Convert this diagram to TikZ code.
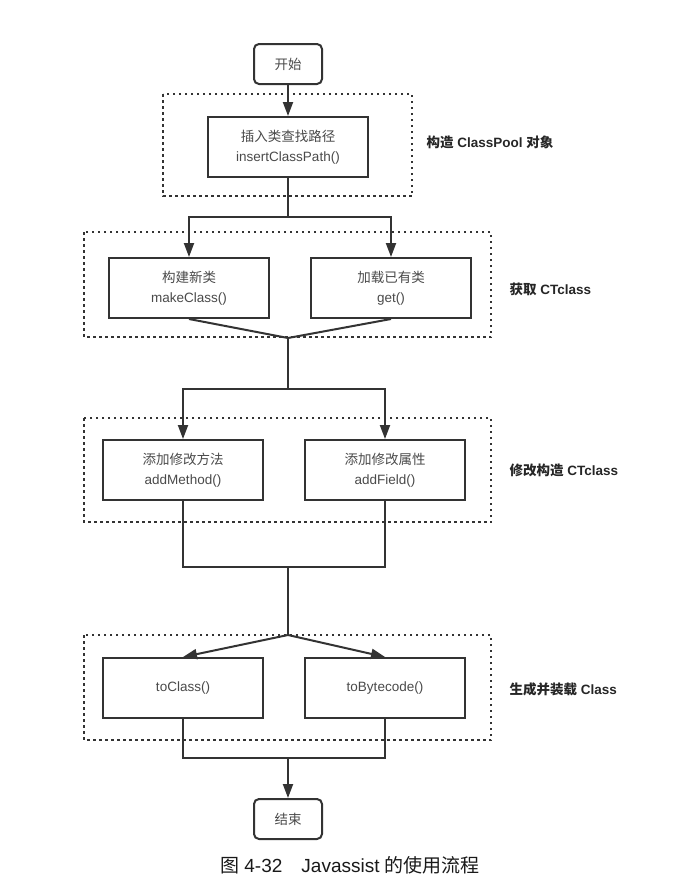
\documentclass[tikz,border=0pt]{standalone}
\usepackage{fontspec}
\setmainfont{Liberation Sans}
\newfontfamily\cjk{Noto Sans CJK SC}
\usetikzlibrary{arrows.meta}
\definecolor{ln}{HTML}{333333}
\definecolor{tx}{HTML}{4A4A4A}
\begin{document}
\begin{tikzpicture}[x=1pt,y=-1pt,
  box/.style={draw=ln,line width=2pt,fill=white,text=tx,align=center,
    font=\fontsize{13.5}{20}\selectfont,inner sep=0pt},
  term/.style={box,rounded corners=5pt},
  grp/.style={draw=ln,line width=2pt,dash pattern=on 2.5pt off 3.5pt},
  lab/.style={anchor=west,font=\fontsize{13.5}{16}\selectfont\bfseries,text=black!85},
  cn/.style={draw=ln,line width=2pt},
  arr/.style={cn,-{Triangle[length=14pt,width=10pt]}}]
\useasboundingbox (0,0) rectangle (698,886);
% groups
\draw[grp] (163,94) rectangle (412,196);
\draw[grp] (84,232) rectangle (491,337);
\draw[grp] (84,418) rectangle (491,522);
\draw[grp] (84,635) rectangle (491,740);
% nodes
\node[term,minimum width=68pt,minimum height=40pt] (start) at (288,64) {\cjk 开始};
\node[box,minimum width=160pt,minimum height=60pt] (ins) at (288,147) {{\cjk 插入类查找路径}\\insertClassPath()};
\node[box,minimum width=160pt,minimum height=60pt] (mk) at (189,288) {{\cjk 构建新类}\\makeClass()};
\node[box,minimum width=160pt,minimum height=60pt] (get) at (391,288) {{\cjk 加载已有类}\\get()};
\node[box,minimum width=160pt,minimum height=60pt] (am) at (183,470) {{\cjk 添加修改方法}\\addMethod()};
\node[box,minimum width=160pt,minimum height=60pt] (af) at (385,470) {{\cjk 添加修改属性}\\addField()};
\node[box,minimum width=160pt,minimum height=60pt] (tc) at (183,688) {toClass()};
\node[box,minimum width=160pt,minimum height=60pt] (tb) at (385,688) {toBytecode()};
\node[term,minimum width=68pt,minimum height=40pt] (end) at (288,819) {\cjk 结束};
% junctions
\coordinate (j1) at (288,217);
\coordinate (j2) at (288,338);
\coordinate (j3) at (288,389);
\coordinate (j4) at (288,567);
\coordinate (j5) at (288,635);
\coordinate (j6) at (288,758);
% connectors
\draw[arr] (start.south) -- (ins.north);
\draw[cn] (ins.south) -- (j1);
\draw[arr] (j1) -| (mk.north);
\draw[arr] (j1) -| (get.north);
\draw[cn] (mk.south) -- (j2);
\draw[cn] (get.south) -- (j2);
\draw[cn] (j2) -- (j3);
\draw[arr] (j3) -| (am.north);
\draw[arr] (j3) -| (af.north);
\draw[cn] (am.south) |- (j4);
\draw[cn] (af.south) |- (j4);
\draw[cn] (j4) -- (j5);
\draw[arr] (j5) -- (tc.north);
\draw[arr] (j5) -- (tb.north);
\draw[cn] (tc.south) |- (j6);
\draw[cn] (tb.south) |- (j6);
\draw[arr] (j6) -- (end.north);
% labels
\node[lab] (l1) at (423,142) {{\cjk\bfseries 构造} ClassPool {\cjk\bfseries 对象}};
\node[lab] (l2) at (506,289) {{\cjk\bfseries 获取} CTclass};
\node[lab] (l3) at (506,470) {{\cjk\bfseries 修改构造} CTclass};
\node[lab] (l4) at (506,689) {{\cjk\bfseries 生成并装载} Class};
\node[font=\fontsize{19}{22}\selectfont,text=black!90] (cap) at (350,865) {{\cjk 图} 4-32\hspace{1em}Javassist {\cjk 的使用流程}};
\end{tikzpicture}
\end{document}
